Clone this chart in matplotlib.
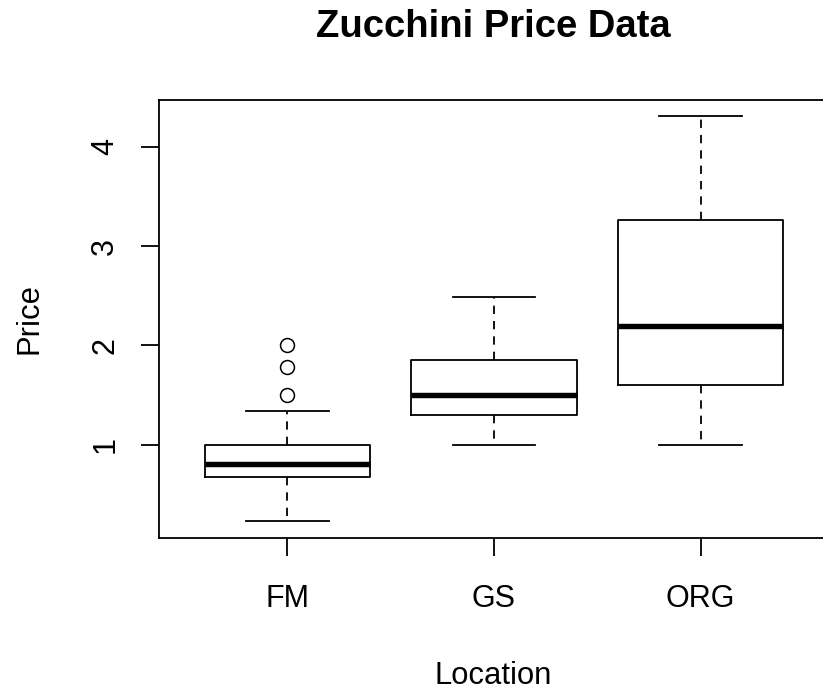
import matplotlib
matplotlib.use("Agg")
import matplotlib.pyplot as plt

# ---- data ----
locations = ["FM", "GS", "ORG"]
q1 = [0.67, 1.30, 1.60]
medians = [0.80, 1.50, 2.19]
q3 = [1.00, 1.85, 3.26]
whisker_lo = [0.23, 1.00, 1.00]
whisker_hi = [1.34, 2.49, 4.31]
outliers = [[1.50, 1.78, 2.00], [], []]
yticks = [1, 2, 3, 4]

plt.rcParams["font.family"] = ["Liberation Sans", "DejaVu Sans"]
W, H = 823, 690
fig = plt.figure(figsize=(W / 100, H / 100), dpi=100)

# axes box in pixels (right edge lies just outside the picture, as in the reference)
left_px, right_px, top_px, bottom_px = 158.6, 828.7, 100.0, 538.3
ax = fig.add_axes([left_px / W, (H - bottom_px) / H,
                   (right_px - left_px) / W, (bottom_px - top_px) / H])

stats = []
for i, name in enumerate(locations):
    stats.append(dict(label=name, q1=q1[i], med=medians[i], q3=q3[i],
                      whislo=whisker_lo[i], whishi=whisker_hi[i],
                      fliers=outliers[i]))

lw = 1.3
ax.bxp(stats, positions=[1, 2, 3], widths=0.8, capwidths=0.4,
       showfliers=True, patch_artist=False,
       boxprops=dict(color="black", linewidth=lw),
       whiskerprops=dict(color="black", linewidth=lw, linestyle=(0, (4.6, 3.9))),
       capprops=dict(color="black", linewidth=lw),
       medianprops=dict(color="black", linewidth=3.9, solid_capstyle="butt"),
       flierprops=dict(marker="o", markerfacecolor="none", markeredgecolor="black",
                       markersize=10, markeredgewidth=1.1, linestyle="none"))

ax.set_xlim(0.377, 3.62)
ax.set_ylim(0.055, 4.471)
ax.set_yticks(yticks)
ax.set_yticklabels([str(v) for v in yticks], rotation=90, va="center")
ax.set_xticks([1, 2, 3])
ax.set_xticklabels(locations)

for sp in ax.spines.values():
    sp.set_linewidth(lw)
    sp.set_color("black")
    sp.set_clip_on(False)

ax.tick_params(axis="both", direction="out", length=12.7, width=lw,
               labelsize=22, colors="black")
ax.tick_params(axis="x", pad=20)
ax.tick_params(axis="y", pad=15)

cx = (left_px + right_px) / 2 / W
fig.text(cx, (H - 37) / H, "Zucchini Price Data", ha="center", va="baseline",
         fontsize=27.5, fontweight="bold")
fig.text(cx, (H - 684) / H, "Location", ha="center", va="baseline", fontsize=22.3)
fig.text(38 / W, (H - 318) / H, "Price", ha="center", va="baseline", rotation=90,
         rotation_mode="anchor", fontsize=22.3)

fig.savefig("out.png", dpi=100)
